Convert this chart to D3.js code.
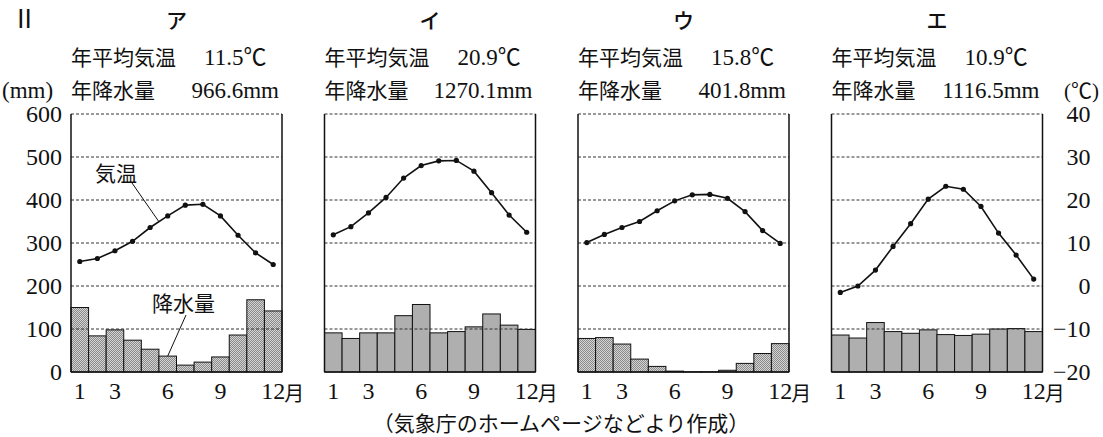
<!DOCTYPE html>
<html>
<head>
<meta charset="utf-8">
<script src="https://d3js.org/d3.v7.min.js"></script>
<style>
  body { margin: 0; background: #fff; }
  svg text { font-family: "Liberation Serif", "Noto Sans CJK JP", serif; fill: #111; }
  .grid { stroke: #333; stroke-width: 1; stroke-dasharray: 3,2; }
  .frame { stroke: #111; stroke-width: 1.5; }
</style>
</head>
<body>
<div id="chart"></div>
<script>
// data
const months = [1,2,3,4,5,6,7,8,9,10,11,12];
const panelNames = ["ア", "イ", "ウ", "エ"];
const annualTemp = ["11.5", "20.9", "15.8", "10.9"];
const annualPrecip = ["966.6", "1270.1", "401.8", "1116.5"];
const precipA = [150, 84, 98, 74, 53, 37, 16, 23, 35, 86, 168, 142];
const precipI = [91, 78, 91, 91, 131, 157, 91, 94, 105, 135, 109, 99];
const precipU = [78, 80, 65, 30, 13, 2, 0.5, 0.5, 4, 20, 43, 66];
const precipE = [86, 79, 115, 94, 90, 98, 87, 85, 88, 100, 101, 94];
const tempA = [5.7, 6.4, 8.2, 10.4, 13.6, 16.3, 18.8, 19.0, 16.3, 11.8, 7.7, 5.0];
const tempI = [11.9, 13.8, 17.0, 20.6, 25.1, 28.0, 29.1, 29.2, 26.7, 21.7, 16.5, 12.5];
const tempU = [10.1, 12.0, 13.6, 15.0, 17.5, 19.8, 21.2, 21.3, 20.4, 17.3, 12.9, 9.9];
const tempE = [-1.5, 0.0, 3.7, 9.2, 14.5, 20.2, 23.2, 22.5, 18.5, 12.3, 7.2, 1.6];
const precipTicks = [0, 100, 200, 300, 400, 500, 600];
const tempTicks = [-20, -10, 0, 10, 20, 30, 40];
const monthTicks = [1, 3, 6, 9, 12];

const precipSeries = [precipA, precipI, precipU, precipE];
const tempSeries = [tempA, tempI, tempU, tempE];

const W = 1103, H = 437;
const svg = d3.select("#chart").append("svg").attr("width", W).attr("height", H);

// stipple fill for the bars
const defs = svg.append("defs");
const pat = defs.append("pattern").attr("id", "dots")
  .attr("width", 2).attr("height", 2).attr("patternUnits", "userSpaceOnUse");
pat.append("rect").attr("width", 2).attr("height", 2).attr("fill", "#d4d4d4");
pat.append("rect").attr("x", 0).attr("y", 0).attr("width", 1).attr("height", 1).attr("fill", "#8a8a8a");
pat.append("rect").attr("x", 1).attr("y", 1).attr("width", 1).attr("height", 1).attr("fill", "#8a8a8a");

const panelW = 211, panelStep = 253.5, firstLeft = 71;
const plotTop = 114, plotBottom = 372;
const yP = d3.scaleLinear().domain([0, 600]).range([plotBottom, plotTop]);
const yT = d3.scaleLinear().domain([-20, 40]).range([plotBottom, plotTop]);
const x = d3.scaleBand().domain(months).range([0, panelW]).padding(0);
const xc = m => x(m) + x.bandwidth() / 2;

svg.append("text").attr("x", 12).attr("y", 28).attr("font-size", 25).text("Ⅱ");

panelNames.forEach((name, i) => {
  const left = firstLeft + i * panelStep;
  const g = svg.append("g").attr("transform", `translate(${left},0)`);

  g.append("text").attr("x", panelW / 2).attr("y", 28).attr("text-anchor", "middle")
    .attr("font-size", 21).attr("font-weight", 500).text(name);
  g.append("text").attr("x", 0).attr("y", 65).attr("font-size", 21).text("年平均気温");
  g.append("text").attr("x", 133).attr("y", 65).attr("font-size", 23).text(annualTemp[i] + "℃");
  g.append("text").attr("x", 0).attr("y", 98).attr("font-size", 21).text("年降水量");
  g.append("text").attr("x", 208).attr("y", 98).attr("text-anchor", "end").attr("font-size", 23)
    .text(annualPrecip[i] + "mm");

  // bars
  g.selectAll("rect.bar").data(precipSeries[i]).enter().append("rect")
    .attr("class", "bar")
    .attr("x", (d, j) => x(months[j]))
    .attr("width", x.bandwidth())
    .attr("y", d => yP(d))
    .attr("height", d => plotBottom - yP(d))
    .attr("fill", "url(#dots)")
    .attr("stroke", "#111").attr("stroke-width", 1);

  // grid
  g.selectAll("line.grid").data(precipTicks.slice(1)).enter().append("line")
    .attr("class", "grid")
    .attr("x1", 0).attr("x2", panelW)
    .attr("y1", d => yP(d)).attr("y2", d => yP(d));

  // frame
  g.append("line").attr("class", "frame").attr("x1", 0).attr("x2", 0).attr("y1", plotTop).attr("y2", plotBottom);
  g.append("line").attr("class", "frame").attr("x1", panelW).attr("x2", panelW).attr("y1", plotTop).attr("y2", plotBottom);
  g.append("line").attr("class", "frame").attr("x1", 0).attr("x2", panelW).attr("y1", plotBottom).attr("y2", plotBottom);

  // temperature
  const line = d3.line().x((d, j) => xc(months[j])).y(d => yT(d));
  g.append("path").datum(tempSeries[i]).attr("d", line)
    .attr("fill", "none").attr("stroke", "#111").attr("stroke-width", 1.6);
  g.selectAll("circle").data(tempSeries[i]).enter().append("circle")
    .attr("cx", (d, j) => xc(months[j])).attr("cy", d => yT(d)).attr("r", 2.6).attr("fill", "#111");

  // month labels
  const mg = g.append("g").attr("transform", `translate(0,${plotBottom})`)
    .call(d3.axisBottom(x).tickValues(monthTicks).tickSize(0).tickPadding(10));
  mg.select(".domain").remove();
  mg.selectAll("text").attr("font-size", 24).attr("font-family", null).attr("fill", "#111");
  g.append("text").attr("x", xc(12) + 11).attr("y", 401).attr("font-size", 20).text("月");

  if (i === 0) {
    const ya = g.append("g").call(d3.axisLeft(yP).tickValues(precipTicks).tickSize(0).tickPadding(9));
    ya.select(".domain").remove();
    ya.selectAll("text").attr("font-size", 24).attr("font-family", null).attr("fill", "#111");

    // annotations
    const tx = (xc(5) + xc(6)) / 2, ty = yT((tempA[4] + tempA[5]) / 2);
    g.append("text").attr("x", 24).attr("y", 181).attr("font-size", 21).text("気温");
    g.append("line").attr("x1", 61).attr("y1", 183).attr("x2", tx).attr("y2", ty)
      .attr("stroke", "#111").attr("stroke-width", 1);
    g.append("text").attr("x", 81).attr("y", 311).attr("font-size", 21).text("降水量");
    g.append("line").attr("x1", 115).attr("y1", 315).attr("x2", xc(6)).attr("y2", yP(precipA[5]))
      .attr("stroke", "#111").attr("stroke-width", 1);
  }
  if (i === 3) {
    const yb = g.append("g").attr("transform", `translate(${panelW},0)`)
      .call(d3.axisRight(yT).tickValues(tempTicks).tickSize(0)
        .tickFormat(d => d < 0 ? "−" + Math.abs(d) : d));
    yb.select(".domain").remove();
    yb.selectAll("text").attr("font-size", 24).attr("font-family", null).attr("fill", "#111")
      .attr("text-anchor", "end").attr("x", 48);
  }
});

svg.append("text").attr("x", 2).attr("y", 98).attr("font-size", 23).text("(mm)");
svg.append("text").attr("x", 1064).attr("y", 98).attr("font-size", 21).text("(℃)");
svg.append("text").attr("x", 561).attr("y", 431).attr("text-anchor", "middle").attr("font-size", 21)
  .text("（気象庁のホームページなどより作成）");
</script>
</body>
</html>
